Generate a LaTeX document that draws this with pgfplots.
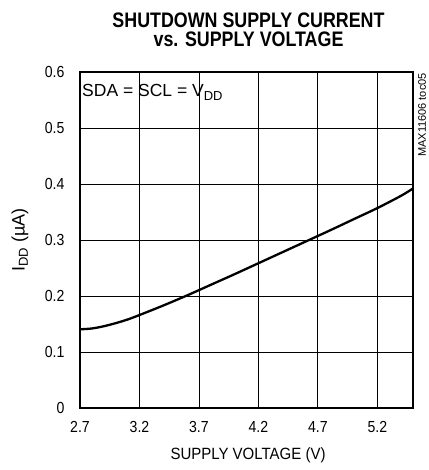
\documentclass[border=0pt]{standalone}
\usepackage{pgfplots}
\pgfplotsset{compat=1.18}
\usepackage{fontspec}
\setmainfont{Liberation Sans}
\newfontfamily\titlefont[FakeStretch=0.85]{Liberation Sans}
\newfontfamily\tickfont[FakeStretch=0.88]{Liberation Sans}
\newfontfamily\labfont[FakeStretch=0.92]{Liberation Sans}
\begin{document}
\begin{tikzpicture}
\path[use as bounding box] (0bp,0bp) rectangle (429bp,470bp);
\begin{axis}[
  at={(80bp,62bp)}, anchor=south west,
  scale only axis, width=333bp, height=336bp,
  xmin=2.7, xmax=5.5, ymin=0, ymax=0.6,
  xtick={2.7,3.2,3.7,4.2,4.7,5.2},
  xticklabels={2.7,3.2,3.7,4.2,4.7,5.2},
  ytick={0,0.1,0.2,0.3,0.4,0.5,0.6},
  yticklabels={0,0.1,0.2,0.3,0.4,0.5,0.6},
  grid=major,
  major grid style={black, line width=0.8bp},
  axis line style={line width=2bp},
  major tick length=0pt,
  tick label style={font=\tickfont\fontsize{16bp}{18bp}\selectfont},
  xticklabel style={yshift=-10bp},
  yticklabel style={xshift=-12bp},
  /pgf/number format/assume math mode=true,
  clip=true,
]
\addplot[black, line width=2.3bp, smooth] coordinates {
(2.7,0.1405) (2.8,0.142) (2.9,0.146) (3.0,0.1515) (3.1,0.158) (3.2,0.166)
(3.4,0.183) (3.6,0.201) (3.8,0.220) (4.0,0.239) (4.2,0.2585) (4.4,0.278)
(4.6,0.2975) (4.8,0.317) (5.0,0.337) (5.2,0.357) (5.4,0.379) (5.5,0.392)
};
\end{axis}
\node[anchor=base, font=\titlefont\bfseries\fontsize{21bp}{22bp}\selectfont] at (248.5bp,442.3bp) {SHUTDOWN SUPPLY CURRENT};
\node[anchor=base, font=\titlefont\bfseries\fontsize{21bp}{22bp}\selectfont] at (248.5bp,423.3bp) {vs. SUPPLY VOLTAGE};
\node[anchor=base, font=\labfont\fontsize{16.3bp}{18bp}\selectfont] at (248bp,10.5bp) {SUPPLY VOLTAGE (V)};
\node[rotate=90, anchor=center, font=\fontsize{18bp}{20bp}\selectfont] at (20bp,230bp) {I\raisebox{-0.35ex}{\fontsize{13bp}{14bp}\selectfont DD} (µA)};
\node[anchor=base west, inner sep=0pt, font=\fontsize{17.5bp}{19bp}\selectfont] at (82bp,373bp) {SDA = SCL = V\raisebox{-0.35ex}{\fontsize{13bp}{14bp}\selectfont DD}};
\node[rotate=90, anchor=east, inner sep=0pt, font=\fontsize{11bp}{12bp}\selectfont] at (422bp,397bp) {MAX11606 toc05};
\end{tikzpicture}
\end{document}
